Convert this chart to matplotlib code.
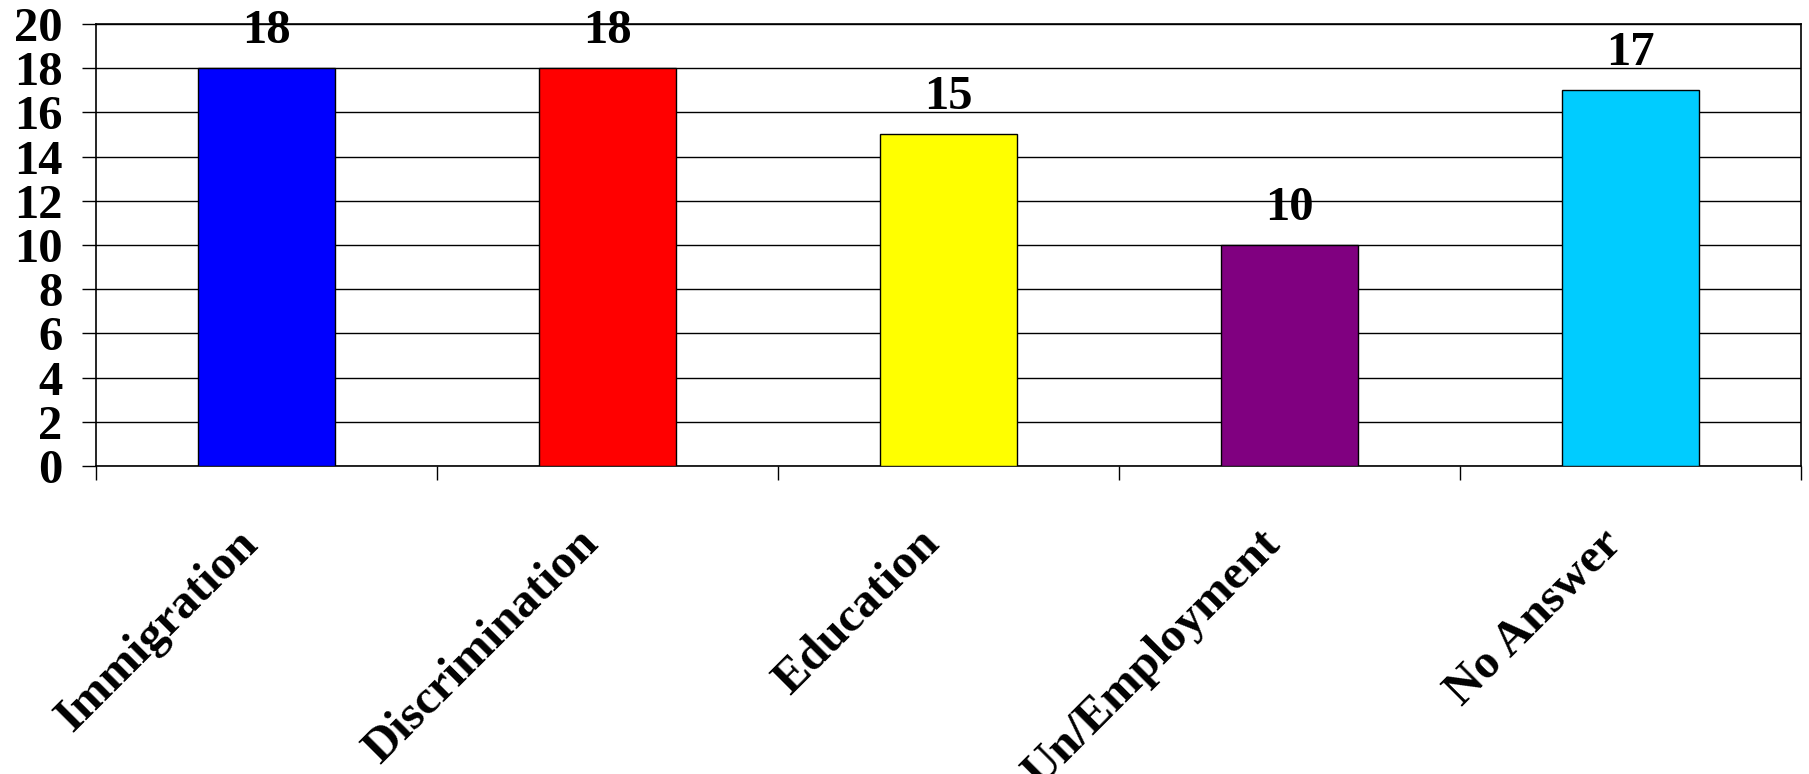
import numpy as np
import matplotlib
matplotlib.use("Agg")
import matplotlib.pyplot as plt

categories = ["Immigration", "Discrimination", "Education", "Un/Employment", "No Answer"]
values = [18, 18, 15, 10, 17]
colors = ["#0000FF", "#FF0000", "#FFFF00", "#800080", "#00CCFF"]
y_ticks = list(range(0, 21, 2))

plt.rcParams['font.family'] = ['Liberation Serif', 'DejaVu Serif']
plt.rcParams['font.weight'] = 'bold'

fig = plt.figure(figsize=(18.09, 7.74), dpi=100)
ax = fig.add_axes([0.0531, 0.398, 0.9425, 0.571])

x = np.arange(len(categories))
ax.bar(x, values, width=0.4, color=colors, edgecolor='black', linewidth=1.0, zorder=3)

for xi, v in zip(x, values):
    ax.annotate(str(v), (xi, v), xytext=(0, 18), textcoords='offset points',
                ha='center', va='baseline', fontsize=35, fontweight='bold', zorder=4)

ax.set_xlim(-0.5, len(categories) - 0.5)
ax.set_ylim(0, 20)
ax.set_yticks(y_ticks)
ax.set_yticklabels([str(t) for t in y_ticks], fontsize=35, fontweight='bold')
ax.yaxis.grid(True, color='black', linewidth=1.0, zorder=0)

# ticks on category boundaries, labels at the centres
ax.set_xticks(np.arange(len(categories) + 1) - 0.5)
ax.set_xticklabels([])
ax.set_xticks(x, minor=True)
ax.set_xticklabels(categories, minor=True, rotation=45, ha='right', va='top',
                   fontsize=35, fontweight='bold')
ax.tick_params(axis='x', which='minor', length=0, pad=40)
ax.tick_params(axis='x', which='major', length=10, width=1.0, direction='out')
ax.tick_params(axis='y', length=10, width=1.0, direction='out', pad=14)

for s in ax.spines.values():
    s.set_linewidth(1.2)
    s.set_color('black')

fig.savefig("out.png", dpi=100)
